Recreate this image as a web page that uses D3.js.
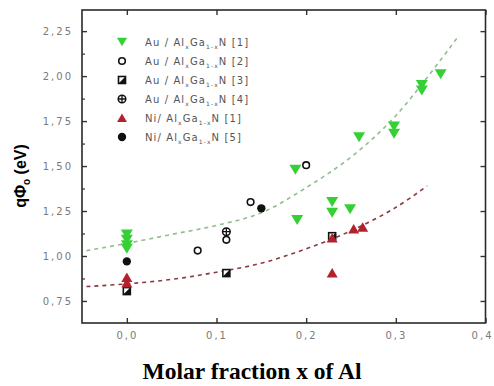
<!DOCTYPE html>
<html>
<head>
<meta charset="utf-8">
<script src="https://cdn.jsdelivr.net/npm/d3@7"></script>
<style>
  html, body { margin: 0; padding: 0; background: #fff; }
  svg { display: block; }
</style>
</head>
<body>
<svg id="chart" width="494" height="386"></svg>
<script>
// Barrier height versus Al molar fraction for metal / AlGaN contacts
const xTicks = [0.0, 0.1, 0.2, 0.3, 0.4];
const yTicks = [0.75, 1.00, 1.25, 1.50, 1.75, 2.00, 2.25];
const yMinorTicks = [0.625, 0.875, 1.125, 1.375, 1.625, 1.875, 2.125, 2.375];

// [x, barrier height in eV]
const auRef1 = [[0, 1.12], [0, 1.09], [0, 1.06], [0, 1.04], [0.188, 1.48], [0.19, 1.20],
                [0.229, 1.30], [0.229, 1.24], [0.249, 1.26], [0.259, 1.66], [0.298, 1.72],
                [0.298, 1.68], [0.329, 1.95], [0.329, 1.92], [0.35, 2.01]];
const auRef2 = [[0.079, 1.03], [0.111, 1.09], [0.138, 1.30], [0.20, 1.505]];
const auRef3 = [[0, 0.805], [0.111, 0.905], [0.229, 1.11]];
const auRef4 = [[0.111, 1.135]];
const niRef1 = [[0, 0.88], [0, 0.85], [0.229, 1.10], [0.229, 0.905], [0.253, 1.15], [0.263, 1.16]];
const niRef5 = [[0, 0.97], [0.15, 1.265]];

// fitted trends
const auFit = [[-0.045, 1.03], [0, 1.07], [0.05, 1.12], [0.1, 1.17], [0.15, 1.24],
               [0.2, 1.38], [0.25, 1.55], [0.3, 1.78], [0.368, 2.21]];
const niFit = [[-0.045, 0.83], [0, 0.845], [0.05, 0.87], [0.1, 0.91], [0.15, 0.96],
               [0.2, 1.04], [0.25, 1.14], [0.3, 1.27], [0.335, 1.39]];

const legendLabels = [
  ["Au / Al", "x", "Ga", "1-x", "N [1]"],
  ["Au / Al", "x", "Ga", "1-x", "N [2]"],
  ["Au / Al", "x", "Ga", "1-x", "N [3]"],
  ["Au / Al", "x", "Ga", "1-x", "N [4]"],
  ["Ni/ Al", "x", "Ga", "1-x", "N  [1]"],
  ["Ni/ Al", "x", "Ga", "1-x", "N  [5]"]
];

const GREEN = "#35d035", RED = "#b3202e";

const svg = d3.select("#chart");
const L = 82, R = 485.5, T = 10, B = 323;
const x = d3.scaleLinear().domain([-0.05, 0.4]).range([L, R]);
const y = d3.scaleLinear().domain([0.6275, 2.3675]).range([B, T]);

const fmt = d => d3.format(".1f")(d).replace(".", ",");
const fmtY = d => d3.format(".2f")(d).replace(".", ",");

// axes
const tickFont = g => g.selectAll("text")
  .attr("fill", "#7a7a7a").style("font-family", "DejaVu Sans")
  .style("font-size", "10px").style("letter-spacing", "2px");

svg.append("g").attr("transform", `translate(0,${B})`)
  .call(d3.axisBottom(x).tickValues(xTicks).tickFormat(fmt).tickSizeInner(-5).tickSizeOuter(0).tickPadding(9))
  .call(g => g.select(".domain").remove())
  .call(g => g.selectAll("line").attr("stroke", "#333").attr("stroke-width", 1.4))
  .call(tickFont)
  // last label sits against the right edge of the page
  .call(g => g.selectAll(".tick").filter(d => d === 0.4).select("text")
    .attr("text-anchor", "end").attr("x", 494 - R - 1));

svg.append("g").attr("transform", `translate(0,${T})`)
  .call(d3.axisTop(x).tickValues(xTicks).tickFormat("").tickSizeInner(-5).tickSizeOuter(0))
  .call(g => g.select(".domain").remove())
  .call(g => g.selectAll("line").attr("stroke", "#333").attr("stroke-width", 1.4));

svg.append("g").attr("transform", `translate(${L},0)`)
  .call(d3.axisLeft(y).tickValues(yTicks).tickFormat(fmtY).tickSizeInner(-5).tickSizeOuter(0).tickPadding(9))
  .call(g => g.select(".domain").remove())
  .call(g => g.selectAll("line").attr("stroke", "#333").attr("stroke-width", 1.4))
  .call(tickFont);

svg.append("g").attr("transform", `translate(${L},0)`)
  .call(d3.axisLeft(y).tickValues(yMinorTicks.filter(v => y(v) > T + 2 && y(v) < B - 2)).tickFormat("").tickSizeInner(-3).tickSizeOuter(0))
  .call(g => g.select(".domain").remove())
  .call(g => g.selectAll("line").attr("stroke", "#333").attr("stroke-width", 1.2));

svg.append("g").attr("transform", `translate(${R},0)`)
  .call(d3.axisRight(y).tickValues(yTicks).tickFormat("").tickSizeInner(-5).tickSizeOuter(0))
  .call(g => g.select(".domain").remove())
  .call(g => g.selectAll("line").attr("stroke", "#333").attr("stroke-width", 1.4));

// frame
svg.append("rect").attr("x", L).attr("y", T).attr("width", R - L).attr("height", B - T)
  .attr("fill", "none").attr("stroke", "#2a2a2a").attr("stroke-width", 1.6);

// fitted dashed trends
const line = d3.line().x(d => x(d[0])).y(d => y(d[1])).curve(d3.curveCatmullRom);
svg.append("path").datum(auFit).attr("d", line).attr("fill", "none")
  .attr("stroke", "#8fbf8f").attr("stroke-width", 1.6).attr("stroke-dasharray", "4,4");
svg.append("path").datum(niFit).attr("d", line).attr("fill", "none")
  .attr("stroke", "#8a3a40").attr("stroke-width", 1.6).attr("stroke-dasharray", "4,4");

// marker drawing
const markers = {
  down: (g, s = 1) => g.append("path").attr("d", `M${-6*s},${-5*s}L${6*s},${-5*s}L0,${5*s}Z`).attr("fill", GREEN),
  up: (g, s = 1) => g.append("path").attr("d", `M${-5.5*s},${4.5*s}L${5.5*s},${4.5*s}L0,${-5*s}Z`).attr("fill", RED),
  open: g => g.append("circle").attr("r", 3.3).attr("fill", "#fff").attr("stroke", "#111").attr("stroke-width", 1.6),
  half: g => {
    g.append("rect").attr("x", -3.5).attr("y", -3.5).attr("width", 7).attr("height", 7)
      .attr("fill", "#fff").attr("stroke", "#111").attr("stroke-width", 1.6);
    g.append("path").attr("d", "M-3.5,3.5L3.5,-3.5L3.5,3.5Z").attr("fill", "#111");
  },
  cross: g => {
    g.append("circle").attr("r", 3.8).attr("fill", "#fff").attr("stroke", "#111").attr("stroke-width", 1.5);
    g.append("path").attr("d", "M-3.8,0H3.8M0,-3.8V3.8").attr("stroke", "#111").attr("stroke-width", 1.3);
  },
  dot: g => g.append("path").attr("d", d3.symbol(d3.symbolCircle, 55)()).attr("fill", "#111")
};

const series = [
  { data: auRef1, m: markers.down },
  { data: auRef2, m: markers.open },
  { data: auRef3, m: markers.half },
  { data: auRef4, m: markers.cross },
  { data: niRef1, m: markers.up },
  { data: niRef5, m: markers.dot }
];

series.forEach(s => {
  svg.append("g").selectAll("g").data(s.data).join("g")
    .attr("transform", d => `translate(${x(d[0])},${y(d[1])})`)
    .each(function () { s.m(d3.select(this)); });
});

// legend
const lg = svg.append("g");
legendLabels.forEach((lab, i) => {
  const yy = 42 + i * 19;
  const g = lg.append("g").attr("transform", `translate(122,${yy})`);
  if (i === 0) markers.down(g, 0.85);
  else if (i === 4) markers.up(g, 0.9);
  else series[i].m(g);
  const t = lg.append("text").attr("x", 145).attr("y", yy + 4)
    .attr("fill", "#555").style("font-family", "DejaVu Sans").style("font-size", "10px")
    .style("letter-spacing", "1.1px");
  t.append("tspan").text(lab[0]);
  t.append("tspan").attr("dy", 3).style("font-size", "6px").text(lab[1]);
  t.append("tspan").attr("dy", -3).text(lab[2]);
  t.append("tspan").attr("dy", 3).style("font-size", "6px").text(lab[3]);
  t.append("tspan").attr("dy", -3).text(lab[4]);
});

// axis titles
svg.append("text").attr("x", 252).attr("y", 379).attr("text-anchor", "middle")
  .style("font-family", "Liberation Serif").style("font-weight", "bold").style("font-size", "23.5px")
  .attr("fill", "#000").text("Molar fraction x of Al");

const yt = svg.append("text").attr("transform", "translate(26,176) rotate(-90)")
  .attr("text-anchor", "middle").style("font-family", "Liberation Sans")
  .style("font-weight", "bold").style("font-size", "16px").attr("fill", "#000");
yt.append("tspan").text("qΦ");
yt.append("tspan").attr("dy", 4).style("font-size", "10px").text("o");
yt.append("tspan").attr("dy", -4).text(" (eV)");
</script>
</body>
</html>
